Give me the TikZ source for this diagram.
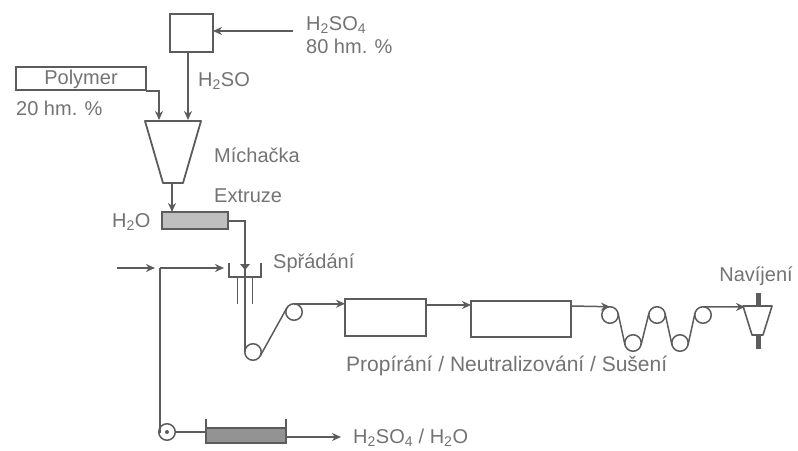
\documentclass[tikz,border=0pt]{standalone}
\usepackage{fontspec}
\setmainfont{Liberation Sans}
\usetikzlibrary{arrows.meta}
\definecolor{ln}{gray}{0.36}
\definecolor{tx}{gray}{0.45}
\tikzset{
  pipe/.style={draw=ln,line width=1.5pt},
  flow/.style={pipe,-{Stealth[length=9pt,width=8pt]}},
  vessel/.style={draw=ln,line width=2pt,rectangle,inner sep=0pt,outer sep=0pt,anchor=north west},
  funnel/.style={draw=ln,line width=1.8pt,line join=round},
  roller/.style={draw=ln,line width=1.5pt,circle,inner sep=0pt,outer sep=0pt,minimum size=16.5pt},
  lbl/.style={text=tx,font=\fontsize{20}{23}\selectfont,inner sep=0pt,anchor=west,align=left},
}
\begin{document}
\begin{tikzpicture}[x=1pt,y=-1pt]
\useasboundingbox (0,0) rectangle (798,450);
% vessels
\node[vessel,minimum width=43pt,minimum height=38pt] (acid) at (170,14) {};
\node[vessel,minimum width=130pt,minimum height=23pt] (poly) at (16,67) {};
\node[text=tx,font=\fontsize{20}{21}\selectfont,inner sep=0pt] (polyt) at (81,79) {Polymer};
\draw[funnel] (145,121) -- (201,121) -- (183,183) -- (163,183) -- cycle;
\node[vessel,fill=gray!50,line width=2.2pt,minimum width=66pt,minimum height=17pt] (ext) at (162,212) {};
\node[vessel,minimum width=81pt,minimum height=37pt] (wash) at (345,299) {};
\node[vessel,minimum width=100pt,minimum height=36pt] (neut) at (471,301) {};
\node[vessel,fill=gray!85,line width=1.8pt,minimum width=80pt,minimum height=15pt] (bath) at (206,428) {};
\draw[funnel,line width=1.6pt] (743,306) -- (772,306) -- (763,335) -- (752,335) -- cycle;
% rollers
\node[roller] (r1) at (253,352) {};
\node[roller] (r2) at (294,312) {};
\node[roller] (w1) at (610,315) {};
\node[roller] (w2) at (633,343) {};
\node[roller] (w3) at (657,315) {};
\node[roller] (w4) at (680,343) {};
\node[roller] (w5) at (703,315) {};
\node[roller] (pump) at (167,432) {};
\node[circle,fill=ln,inner sep=0pt,minimum size=4pt] (pumpdot) at (167,432) {};
% free ends
\coordinate (acidin) at (293,31);
\coordinate (mixa) at (188,120);
\coordinate (mixp) at (159,120);
\coordinate (mixo) at (172,183);
\coordinate (exto) at (228,221);
\coordinate (bathin) at (206,432);
\coordinate (batho) at (286,437);
\coordinate (bathend) at (341,437);
\coordinate (feed1) at (117,268);
\coordinate (feed1e) at (155,268);
\coordinate (feed2) at (160,268);
\coordinate (feed2e) at (224,268);
\coordinate (windin) at (745,307);
% connectors
\draw[flow] (acidin) -- (acid.east |- acidin);
\draw[flow] (acid.south -| mixa) -- (mixa);
\draw[flow] (poly.east |- 0,91) -| (mixp);
\draw[flow] (mixo) -- (mixo |- ext.north);
\draw[pipe] (exto) -| (r1.west);
\draw[pipe] (r1.-30) -- (r2.150);
\draw[flow] (r2.north) -- (wash.west |- r2.north);
\draw[flow] (wash.east |- 0,305) -- (neut.west |- 0,305);
\draw[flow] (neut.east |- 0,306) -- (w1.north);
\draw[pipe] (w1.13) -- (w2.193);
\draw[pipe] (w2.-13) -- (w3.167);
\draw[pipe] (w3.13) -- (w4.193);
\draw[pipe] (w4.-13) -- (w5.167);
\draw[flow] (w5.north) -- (windin);
\draw[flow] (feed1) -- (feed1e);
\draw[flow] (feed2) -- (feed2e);
\draw[pipe] (feed2) -- (feed2 |- pump.west) -- (pump.west);
\draw[pipe] (pump.east) -- (bathin);
\draw[flow] (batho) -- (bathend);
% spinneret
\draw[pipe] (229,263) -- (229,277) -- (261,277) -- (261,263);
\draw[pipe] (237.5,277) -- (237.5,304);
\draw[pipe] (252.5,277) -- (252.5,304);
\fill[ln] (240,264) -- (250,264) -- (245,270) -- cycle;
% bath walls
\draw[pipe] (bath.north west) -- ++(0,-9);
\draw[pipe] (bath.north east) -- ++(0,-9);
% winder stems
\fill[ln] (755.5,293) rectangle (760.5,306);
\fill[ln] (755.5,335) rectangle (760.5,349);
% labels
\node[lbl] (l1) at (306,35) {H\textsubscript{2}SO\textsubscript{4}\\80 hm. \%};
\node[lbl] (l2) at (198,81) {H\textsubscript{2}SO};
\node[lbl] (l3) at (16,108) {20 hm. \%};
\node[lbl] (l4) at (214,155) {Míchačka};
\node[lbl] (l5) at (214,196) {Extruze};
\node[lbl] (l6) at (112,222) {H\textsubscript{2}O};
\node[lbl] (l7) at (273,263) {Spřádání};
\node[lbl,font=\fontsize{21}{22}\selectfont] (l8) at (346,366) {Propírání / Neutralizování / Sušení};
\node[lbl,anchor=center] (l9) at (756,276) {Navíjení};
\node[lbl] (l10) at (353,438) {H\textsubscript{2}SO\textsubscript{4} / H\textsubscript{2}O};
\end{tikzpicture}
\end{document}
